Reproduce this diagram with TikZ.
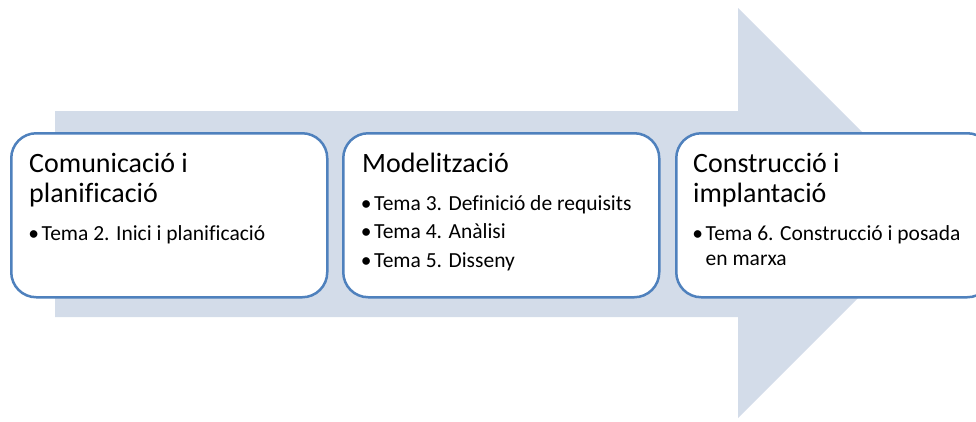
\documentclass[tikz,border=0pt]{standalone}
\usepackage{fontspec}
\setmainfont[Ligatures=NoCommon]{Carlito}
\definecolor{arrowfill}{HTML}{D3DCE9}
\definecolor{boxline}{HTML}{4F81BD}
\newcommand{\bul}{\llap{\textbullet\hspace{2.6pt}}}
\begin{document}
\begin{tikzpicture}[x=1pt,y=-1pt,
  stagebox/.style={draw=boxline, line width=2.5pt, fill=white, rounded corners=25pt,
    minimum width=316pt, minimum height=164pt, anchor=north west, inner sep=0pt},
  titletext/.style={anchor=base west, inner sep=0pt, font=\fontsize{28}{30}\selectfont},
  itemtext/.style={anchor=base west, inner sep=0pt, font=\fontsize{21.5}{26}\selectfont}]
\useasboundingbox (0,0) rectangle (976,421);
\clip (0,0) rectangle (976,421);
% big arrow
\fill[arrowfill] (55,111) -- (738,111) -- (738,8) -- (943,213) -- (738,418) -- (738,317) -- (55,317) -- cycle;
% boxes
\node[stagebox] (b1) at (10,132) {};
\node[stagebox] (b2) at (342,132) {};
\node[stagebox] (b3) at (675,132) {};
% box 1
\node[titletext] (t1a) at (29,172) {Comunicació i};
\node[titletext] (t1b) at (29,202) {planificació};
\node[itemtext] (i1a) at (41.5,240) {\bul Tema 2. Inici i planificació};
% box 2
\node[titletext] (t2a) at (362,172) {Modelització};
\node[itemtext] (i2a) at (374,210) {\bul Tema 3. Definició de requisits};
\node[itemtext] (i2b) at (374,238.5) {\bul Tema 4. Anàlisi};
\node[itemtext] (i2c) at (374,267) {\bul Tema 5. Disseny};
% box 3
\node[titletext] (t3a) at (693,172) {Construcció i};
\node[titletext] (t3b) at (693,202) {implantació};
\node[itemtext] (i3a) at (705.5,240) {\bul Tema 6. Construcció i posada};
\node[itemtext] (i3b) at (705.5,265.5) {en marxa};
\end{tikzpicture}
\end{document}
